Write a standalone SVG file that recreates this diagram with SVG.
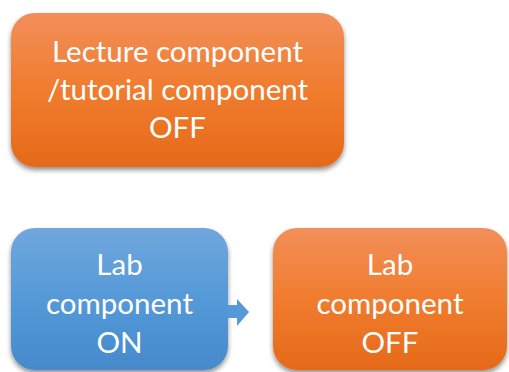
<svg xmlns="http://www.w3.org/2000/svg" width="509" height="372" viewBox="0 0 509 372">
<defs>
<linearGradient id="gO" x1="0" y1="0" x2="0" y2="1">
<stop offset="0" stop-color="#F28F5A"/>
<stop offset="0.5" stop-color="#F07C2E"/>
<stop offset="1" stop-color="#E56A19"/>
</linearGradient>
<linearGradient id="gB" x1="0" y1="0" x2="0" y2="1">
<stop offset="0" stop-color="#70A7DD"/>
<stop offset="0.5" stop-color="#5599D8"/>
<stop offset="1" stop-color="#458ACB"/>
</linearGradient>
<filter id="sh" x="-10%" y="-10%" width="120%" height="130%">
<feGaussianBlur in="SourceAlpha" stdDeviation="2.5"/>
<feOffset dx="0" dy="3" result="b"/>
<feComponentTransfer><feFuncA type="linear" slope="0.45"/></feComponentTransfer>
<feMerge><feMergeNode/><feMergeNode in="SourceGraphic"/></feMerge>
</filter>
</defs>
<style>
text{font-family:Lato,"Liberation Sans",sans-serif;font-size:29.5px;fill:#fff;text-anchor:middle}
</style>
<rect width="509" height="372" fill="#fff"/>
<g id="lecture">
<rect x="11" y="13" width="333" height="154" rx="24" fill="url(#gO)" filter="url(#sh)"/>
<text x="177.5" y="62">Lecture component</text>
<text x="177.5" y="100">/tutorial component</text>
<text x="177.5" y="138">OFF</text>
</g>
<g id="labOn">
<rect x="11" y="228" width="217" height="142" rx="24" fill="url(#gB)" filter="url(#sh)"/>
<text x="119.5" y="275">Lab</text>
<text x="119.5" y="314">component</text>
<text x="119.5" y="353">ON</text>
</g>
<g id="labOff">
<rect x="273" y="228" width="234" height="142" rx="24" fill="url(#gO)" filter="url(#sh)"/>
<text x="390" y="275">Lab</text>
<text x="390" y="314">component</text>
<text x="390" y="353">OFF</text>
</g>
<g id="connectors">
<path d="M228 305 H237 V299 L249 312 L237 326 V318 H228 Z" fill="#5599D8"/>
</g>
</svg>
